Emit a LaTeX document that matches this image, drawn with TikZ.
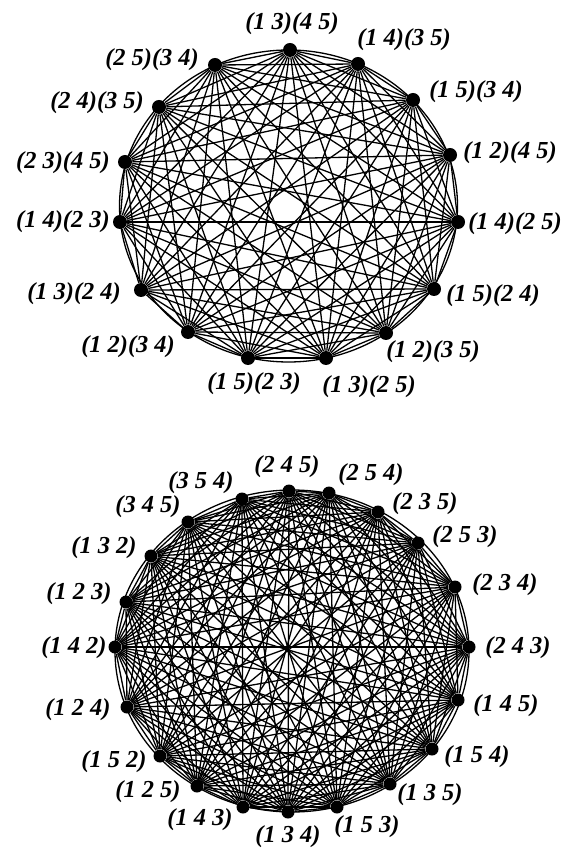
\documentclass[tikz,border=0pt]{standalone}
\usepackage{fontspec}
\setmainfont{Liberation Serif}
\begin{document}
\begin{tikzpicture}[x=0.5pt,y=-0.5pt,
  vert/.style={circle,fill=black,inner sep=0pt,minimum size=7pt},
  lbl/.style={font=\fontsize{12.2}{14}\selectfont\bfseries\itshape,inner sep=0pt},
  edge/.style={line width=0.65pt}]
  \useasboundingbox (0,0) rectangle (563,849);
  % upper graph: the 15 double transpositions
  \draw[edge] (288.5,206) ellipse [x radius=169,y radius=156];
  \foreach \n/\x/\y/\lx/\ly/\t in {
      1/290/50/292/24/{(1 3)(4 5)}, 2/358/64/404/40/{(1 4)(3 5)},
      3/413/100/476/92/{(1 5)(3 4)}, 4/450/155/510/153/{(1 2)(4 5)},
      5/458/222/515/224/{(1 4)(2 5)}, 6/434/289/493/296/{(1 5)(2 4)},
      7/386/333/433/352/{(1 2)(3 5)}, 8/326/358/369/387/{(1 3)(2 5)},
      9/248/358/254/384/{(1 5)(2 3)}, 10/188/332/128/347/{(1 2)(3 4)},
      11/141/290/74/294/{(1 3)(2 4)}, 12/120/222/63/222/{(1 4)(2 3)},
      13/125/162/63/163/{(2 3)(4 5)}, 14/159/107/97/103/{(2 4)(3 5)},
      15/215/65/152/60/{(2 5)(3 4)}}{
    \node[vert] (t\n) at (\x,\y) {};
    \node[lbl] (tl\n) at (\lx,\ly) {\t};
  }
  \foreach \i in {1,...,14}{
    \pgfmathtruncatemacro{\k}{\i+1}
    \foreach \j in {\k,...,15} \draw[edge] (t\i) -- (t\j);
  }
  % lower graph: the 20 three-cycles
  \draw[edge] (292,651) ellipse [x radius=177,y radius=161];
  \foreach \n/\x/\y/\lx/\ly/\t in {
      1/289/491/287/467/{(2 4 5)}, 2/329/493/371/475/{(2 5 4)},
      3/378/512/425/504/{(2 3 5)}, 4/418/543/465/537/{(2 5 3)},
      5/455/587/505/585/{(2 3 4)}, 6/469/647/518/648/{(2 4 3)},
      7/458/700/506/706/{(1 4 5)}, 8/432/749/477/757/{(1 5 4)},
      9/390/784/430/795/{(1 3 5)}, 10/337/807/367/827/{(1 5 3)},
      11/288/812/288/837/{(1 3 4)}, 12/243/807/200/820/{(1 4 3)},
      13/197/786/148/792/{(1 2 5)}, 14/160/756/114/762/{(1 5 2)},
      15/127/707/78/710/{(1 2 4)}, 16/115/647/74/648/{(1 4 2)},
      17/126/602/79/594/{(1 2 3)}, 18/151/556/104/548/{(1 3 2)},
      19/188/522/148/507/{(3 4 5)}, 20/242/499/201/483/{(3 5 4)}}{
    \node[vert,minimum size=6.5pt] (b\n) at (\x,\y) {};
    \node[lbl] (bl\n) at (\lx,\ly) {\t};
  }
  \foreach \i in {1,...,19}{
    \pgfmathtruncatemacro{\k}{\i+1}
    \foreach \j in {\k,...,20} \draw[edge] (b\i) -- (b\j);
  }
\end{tikzpicture}
\end{document}
